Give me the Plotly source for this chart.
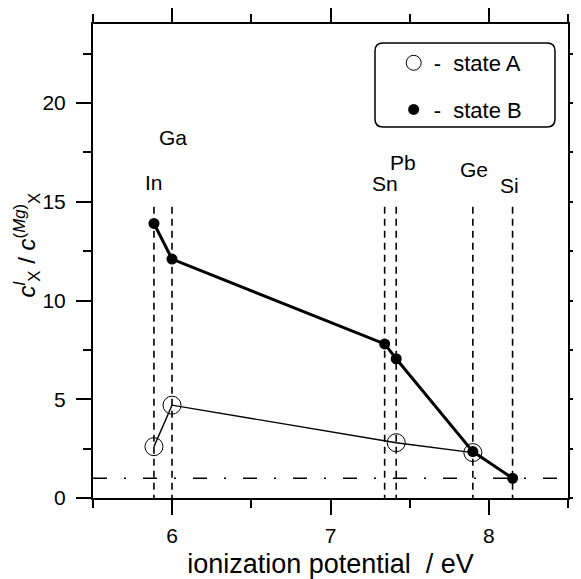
import plotly.graph_objects as go

# ---- data ----
elements = ["In", "Ga", "Sn", "Pb", "Ge", "Si"]
ionization = [5.885, 5.999, 7.342, 7.415, 7.899, 8.150]

stateA_elements = ["In", "Ga", "Pb", "Ge"]
stateA_x = [5.885, 5.999, 7.415, 7.899]
stateA_y = [2.6, 4.7, 2.8, 2.3]

stateB_elements = ["In", "Ga", "Sn", "Pb", "Ge", "Si"]
stateB_x = [5.885, 5.999, 7.342, 7.415, 7.899, 8.150]
stateB_y = [13.9, 12.1, 7.8, 7.05, 2.35, 1.0]

reference_level = 1.0
x_ticks = [6, 7, 8]
y_ticks = [0, 5, 10, 15, 20]

# label placement (layout)
label_x = [5.885, 6.005, 7.342, 7.456, 7.904, 8.131]
label_y = [16.0, 18.25, 15.9, 17.0, 16.65, 15.8]
guide_top = 14.75

FONT = "Arial, Liberation Sans, sans-serif"

fig = go.Figure()

# vertical guide lines
for xv in ionization:
    fig.add_shape(type="line", x0=xv, x1=xv, y0=guide_top, y1=0,
                  xref="x", yref="y",
                  line=dict(color="black", width=1.6, dash="7px,5px"), layer="below")

# horizontal reference line
fig.add_shape(type="line", x0=0, x1=1, xref="paper", y0=reference_level, y1=reference_level,
              yref="y", line=dict(color="black", width=1.3, dash="14px,17px,2px,17px"), layer="below")

fig.add_trace(go.Scatter(x=stateA_x, y=stateA_y, mode="lines+markers",
                         line=dict(color="black", width=1.4),
                         marker=dict(symbol="circle-open", size=18, color="black",
                                     line=dict(width=1, color="black")),
                         showlegend=False))
fig.add_trace(go.Scatter(x=stateB_x, y=stateB_y, mode="lines+markers",
                         line=dict(color="black", width=3),
                         marker=dict(symbol="circle", size=11, color="black"),
                         showlegend=False))

# legend entries
fig.add_trace(go.Scatter(x=[None], y=[None], mode="markers", name="-&nbsp; state A",
                         legendgroup="a",
                         marker=dict(symbol="circle-open", size=15, color="black",
                                     line=dict(width=1, color="black"))))
fig.add_trace(go.Scatter(x=[None], y=[None], mode="markers", name="-&nbsp; state B",
                         legendgroup="b",
                         marker=dict(symbol="circle", size=11, color="black")))

for name, lx, ly in zip(elements, label_x, label_y):
    fig.add_annotation(x=lx, y=ly, text=name, showarrow=False, xref="x", yref="y",
                       font=dict(size=21, color="black", family=FONT))

# y-axis title
fig.add_annotation(x=-0.14, y=0.534, xref="paper", yref="paper", showarrow=False,
                   textangle=-90, xanchor="center", yanchor="middle",
                   text="<i>c</i><sup><i>l</i></sup><sub>X</sub> / <i>c</i><sup>(<i>Mg</i>)</sup><sub>X</sub>",
                   font=dict(size=24, color="black", family=FONT))

# rounded legend box
x0, x1, y0, y1 = 0.5937, 0.9726, 0.7827, 0.9599
rx, ry = 0.0168, 0.0169
path = (f"M {x0+rx},{y1} L {x1-rx},{y1} Q {x1},{y1} {x1},{y1-ry} "
        f"L {x1},{y0+ry} Q {x1},{y0} {x1-rx},{y0} L {x0+rx},{y0} "
        f"Q {x0},{y0} {x0},{y0+ry} L {x0},{y1-ry} Q {x0},{y1} {x0+rx},{y1} Z")
fig.add_shape(type="path", path=path, xref="paper", yref="paper",
              line=dict(color="black", width=1.5), fillcolor="white", layer="below")

axis_common = dict(showgrid=False, zeroline=False, showline=True, linewidth=2,
                   linecolor="black", mirror="ticks", ticks="outside", ticklen=15,
                   tickwidth=2, tickcolor="black",
                   tickfont=dict(size=21, color="black", family=FONT))

fig.update_xaxes(range=[5.5, 8.5], tickvals=x_ticks,
                 minor=dict(dtick=0.5, tick0=5.5, ticks="outside", ticklen=8, tickwidth=2,
                            tickcolor="black"),
                 ticklabelstandoff=3,
                 title=dict(text="ionization potential&nbsp; / eV", standoff=10,
                            font=dict(size=27, color="black", family=FONT)),
                 **axis_common)
fig.update_yaxes(range=[0, 24], tickvals=y_ticks,
                 minor=dict(dtick=2.5, tick0=0, ticks="outside", ticklen=8, tickwidth=2,
                            tickcolor="black"),
                 ticklabelstandoff=6,
                 **axis_common)

fig.update_layout(width=573, height=571,
                  margin=dict(l=85, r=13, t=16, b=81, autoexpand=False),
                  plot_bgcolor="white", paper_bgcolor="white",
                  font=dict(family=FONT, color="black"),
                  legend=dict(x=0.633, y=0.962, xanchor="left", yanchor="top",
                              bgcolor="rgba(0,0,0,0)", borderwidth=0,
                              font=dict(size=22, color="black", family=FONT),
                              traceorder="grouped", tracegroupgap=15))

fig.write_html("out.html")
